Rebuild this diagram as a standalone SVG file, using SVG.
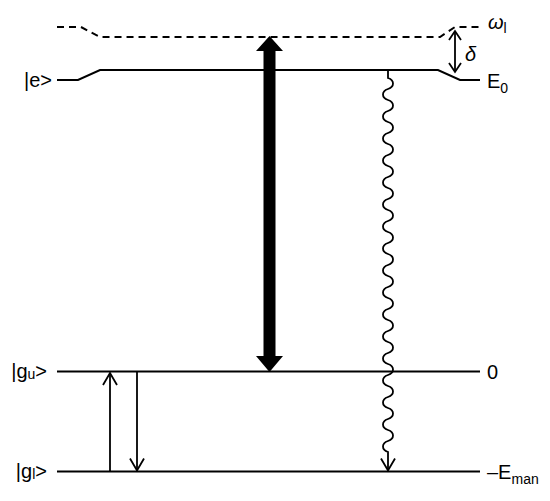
<svg xmlns="http://www.w3.org/2000/svg" width="550" height="501" viewBox="0 0 550 501">
<style>
.lvl{fill:none;stroke:#000;stroke-width:2}
.dash{fill:none;stroke:#000;stroke-width:2;stroke-dasharray:7 5}
.ln{fill:none;stroke:#000;stroke-width:1.8}
text{font-family:"Liberation Sans",Arial,sans-serif;font-size:20px;fill:#000}
.sub{font-size:14px}
</style>
<defs>
<marker id="v" markerUnits="userSpaceOnUse" markerWidth="16" markerHeight="16" viewBox="0 0 16 16" refX="13" refY="8" orient="auto">
<path d="M1,1 L13,8 L1,15" fill="none" stroke="#000" stroke-width="1.8"/>
</marker>
<marker id="vs" markerUnits="userSpaceOnUse" markerWidth="12" markerHeight="14" viewBox="0 0 12 14" refX="10" refY="7" orient="auto-start-reverse">
<path d="M1,1 L10,7 L1,13" fill="none" stroke="#000" stroke-width="1.8"/>
</marker>
</defs>
<g id="level-omega">
<path class="dash" d="M57,27 H81 L100,37 H440 L455,27 H480"/>
<text x="488" y="29"><tspan font-style="italic">ω</tspan><tspan class="sub" dy="4">l</tspan></text>
</g>
<g id="level-e">
<path class="lvl" d="M57,80 H78 L100,70 H438 L460,80 H480"/>
<text x="52" y="87" text-anchor="end">|e&gt;</text>
<text x="487" y="88">E<tspan class="sub" dy="5">0</tspan></text>
</g>
<g id="level-gu">
<path class="lvl" d="M57,371.5 H480"/>
<text x="47" y="378" text-anchor="end">|g<tspan class="sub" dy="1">u</tspan><tspan dy="-1">&gt;</tspan></text>
<text x="487" y="379">0</text>
</g>
<g id="level-gl">
<path class="lvl" d="M57,471.5 H480"/>
<text x="47" y="478" text-anchor="end">|g<tspan class="sub" dy="1">l</tspan><tspan dy="-1">&gt;</tspan></text>
<text x="487" y="479">–E<tspan class="sub" dy="5">man</tspan></text>
</g>
<g id="connectors">
<path id="pump" d="M269.5,36 L283,51 L275.5,51 L275.5,356 L283,356 L269.5,372 L256,356 L263.5,356 L263.5,51 L256,51 Z" fill="#000"/>
<path id="detuning" class="ln" d="M455,31 V72" marker-start="url(#vs)" marker-end="url(#vs)"/>
<text x="465" y="61" font-style="italic">δ</text>
<path id="up" class="ln" d="M110,471.5 V373" marker-end="url(#v)"/>
<path id="down" class="ln" d="M137,371.5 V470.5" marker-end="url(#v)"/>
<path id="decay" class="ln" d="M388,70 V78 c6.67,2.2 6.67,8.8 0,11 c-6.67,2.2 -6.67,8.8 0,11 c6.67,2.2 6.67,8.8 0,11 c-6.67,2.2 -6.67,8.8 0,11 c6.67,2.2 6.67,8.8 0,11 c-6.67,2.2 -6.67,8.8 0,11 c6.67,2.2 6.67,8.8 0,11 c-6.67,2.2 -6.67,8.8 0,11 c6.67,2.2 6.67,8.8 0,11 c-6.67,2.2 -6.67,8.8 0,11 c6.67,2.2 6.67,8.8 0,11 c-6.67,2.2 -6.67,8.8 0,11 c6.67,2.2 6.67,8.8 0,11 c-6.67,2.2 -6.67,8.8 0,11 c6.67,2.2 6.67,8.8 0,11 c-6.67,2.2 -6.67,8.8 0,11 c6.67,2.2 6.67,8.8 0,11 c-6.67,2.2 -6.67,8.8 0,11 c6.67,2.2 6.67,8.8 0,11 c-6.67,2.2 -6.67,8.8 0,11 c6.67,2.2 6.67,8.8 0,11 c-6.67,2.2 -6.67,8.8 0,11 c6.67,2.2 6.67,8.8 0,11 c-6.67,2.2 -6.67,8.8 0,11 c6.67,2.2 6.67,8.8 0,11 c-6.67,2.2 -6.67,8.8 0,11 c6.67,2.2 6.67,8.8 0,11 c-6.67,2.2 -6.67,8.8 0,11 c6.67,2.2 6.67,8.8 0,11 c-6.67,2.2 -6.67,8.8 0,11 c6.67,2.2 6.67,8.8 0,11 c-6.67,2.2 -6.67,8.8 0,11 c6.67,2.2 6.67,8.8 0,11 c-6.67,2.2 -6.67,8.8 0,11 V470.5" marker-end="url(#v)"/>
</g>
</svg>
